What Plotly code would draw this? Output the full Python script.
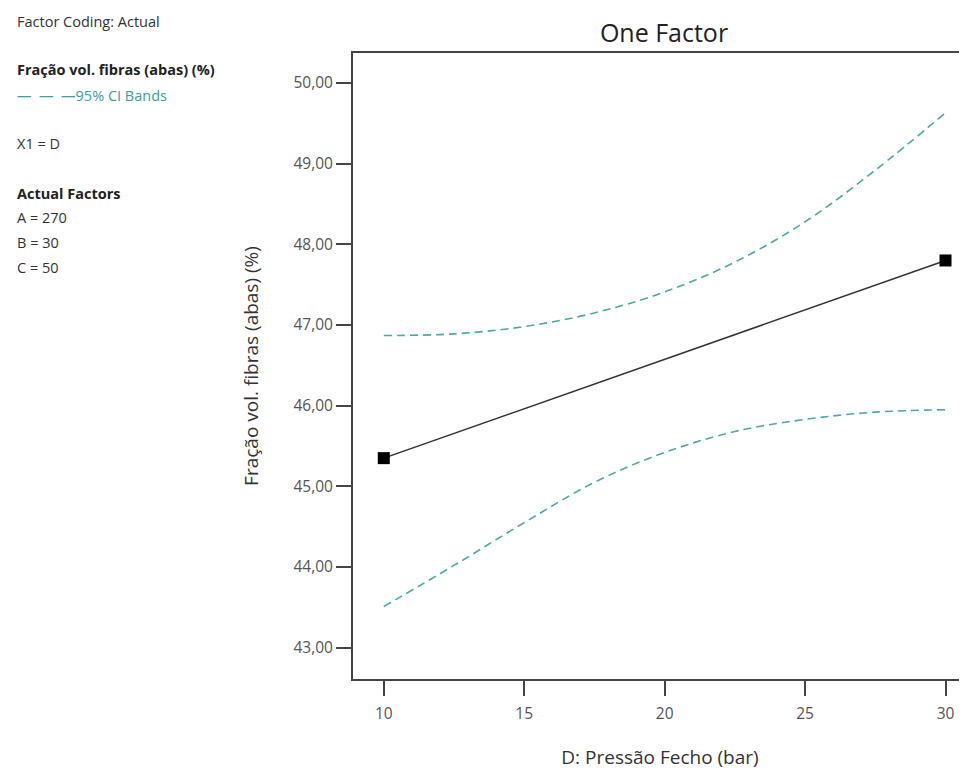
import plotly.graph_objects as go

# Data
pressure_pts = [10, 30]
fraction_pred = [45.35, 47.80]

ci_x = [10, 12.5, 15, 17.5, 20, 22.5, 25, 27.5, 30]
ci_upper = [46.87, 46.89, 46.98, 47.15, 47.41, 47.78, 48.28, 48.92, 49.63]
ci_lower = [43.51, 44.02, 44.55, 45.05, 45.42, 45.68, 45.83, 45.92, 45.95]

x_ticks = [10, 15, 20, 25, 30]
y_ticks = [43, 44, 45, 46, 47, 48, 49, 50]

FONT = "Open Sans"
TEAL = "#4aaaa6"
AXC = "#444444"

W, H = 959, 762
L, T, B = 345, 45, 91
PW, PH = W - L, H - T - B

fig = go.Figure()

fig.add_trace(go.Scatter(x=ci_x, y=ci_upper, mode="lines", line=dict(color=TEAL, width=1.6, dash="8px,5px", shape="spline"),
                         showlegend=False, hoverinfo="skip"))
fig.add_trace(go.Scatter(x=ci_x, y=ci_lower, mode="lines", line=dict(color=TEAL, width=1.6, dash="8px,5px", shape="spline"),
                         showlegend=False, hoverinfo="skip"))
fig.add_trace(go.Scatter(x=pressure_pts, y=fraction_pred, mode="lines+markers",
                         line=dict(color="#333333", width=1.5),
                         marker=dict(symbol="square", size=12, color="black"),
                         cliponaxis=False, showlegend=False))

fig.update_layout(
    width=W, height=H,
    margin=dict(l=L, r=0, t=T, b=B),
    paper_bgcolor="white", plot_bgcolor="white",
    separators=",.",
    font=dict(family=FONT, color="#444444"),
    title=dict(text="One Factor", x=656 / W, xanchor="center", y=1 - 25 / H, yanchor="middle",
               font=dict(size=25, color="#222222", family=FONT)),
)

fig.update_xaxes(range=[8.904, 30.765], tickvals=x_ticks, ticks="outside", ticklen=15, tickwidth=1.5,
                 tickcolor=AXC, showline=True, linecolor=AXC, linewidth=2, mirror=True,
                 showgrid=False, zeroline=False, tickfont=dict(size=15.5, color="#555555"),
                 ticklabelstandoff=4,
                 title=dict(text="D: Pressão Fecho (bar)", font=dict(size=19, color="#333333"), standoff=29))
fig.update_yaxes(range=[42.612, 50.372], tickvals=y_ticks, tickformat=".2f", ticks="outside", ticklen=15,
                 tickwidth=1.5, tickcolor=AXC, showline=True, linecolor=AXC, linewidth=2,
                 showgrid=False, zeroline=False, tickfont=dict(size=15.5, color="#555555"),
                 title=dict(text="Fração vol. fibras (abas) (%)", font=dict(size=19, color="#333333"), standoff=30))

ann = [
    ("Factor Coding: Actual", 21, "#333333"),
    ("<b>Fração vol. fibras (abas) (%)</b>", 70, "#222222"),
    ("—  —  —95% CI Bands", 95, "#3a9e9a"),
    ("X1 = D", 143, "#333333"),
    ("<b>Actual Factors</b>", 193, "#222222"),
    ("A = 270", 217, "#333333"),
    ("B = 30", 242, "#333333"),
    ("C = 50", 267, "#333333"),
]
for text, ypx, col in ann:
    fig.add_annotation(text=text, xref="paper", yref="paper", x=(7 - L) / PW, xanchor="left",
                       y=1 - (ypx - 8 - T) / PH, yanchor="middle", showarrow=False,
                       font=dict(size=14.5, color=col, family=FONT))

fig.write_html("out.html")
